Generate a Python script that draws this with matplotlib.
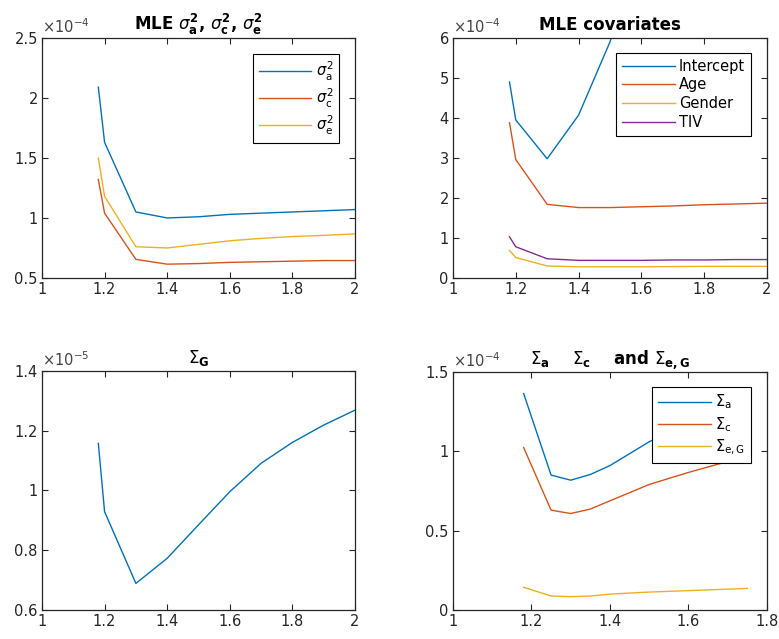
import numpy as np
import matplotlib
matplotlib.use("Agg")
import matplotlib.pyplot as plt
from matplotlib.ticker import FuncFormatter, MultipleLocator

# MATLAB default colours
c_blue = "#0072BD"
c_red = "#D95319"
c_yel = "#EDB120"
c_pur = "#7E2F8E"

# panel 1: MLE sigma^2 (x1e-4)
x1 = [1.18, 1.2, 1.3, 1.4, 1.5, 1.6, 1.7, 1.8, 1.9, 2.0]
sig_a = [2.09, 1.63, 1.05, 1.00, 1.01, 1.03, 1.04, 1.05, 1.06, 1.07]
sig_c = [1.32, 1.04, 0.655, 0.615, 0.62, 0.63, 0.635, 0.64, 0.645, 0.645]
sig_e = [1.50, 1.18, 0.76, 0.75, 0.78, 0.81, 0.83, 0.845, 0.855, 0.867]

# panel 2: MLE covariates (x1e-4)
x2 = [1.18, 1.2, 1.3, 1.4, 1.5, 1.6, 1.7, 1.8, 1.9, 2.0]
intercept = [4.90, 3.95, 2.98, 4.07, 5.90, 8.2, 10.5, 12.8, 15.0, 17.0]
age = [3.88, 2.96, 1.84, 1.76, 1.76, 1.78, 1.80, 1.83, 1.85, 1.87]
gender = [0.69, 0.51, 0.30, 0.28, 0.28, 0.28, 0.285, 0.29, 0.29, 0.29]
tiv = [1.03, 0.78, 0.48, 0.44, 0.44, 0.44, 0.45, 0.45, 0.46, 0.46]

# panel 3: Sigma_G (x1e-5)
x3 = [1.18, 1.2, 1.3, 1.4, 1.5, 1.6, 1.7, 1.8, 1.9, 2.0]
sigma_g = [1.158, 0.929, 0.689, 0.773, 0.885, 0.996, 1.091, 1.161, 1.219, 1.269]

# panel 4: Sigma_a, Sigma_c, Sigma_eG (x1e-4)
x4 = [1.18, 1.25, 1.3, 1.35, 1.4, 1.5, 1.6, 1.75]
S_a = [1.364, 0.85, 0.818, 0.854, 0.91, 1.06, 1.18, 1.33]
S_c = [1.024, 0.629, 0.608, 0.636, 0.688, 0.791, 0.867, 0.97]
S_eG = [0.143, 0.088, 0.084, 0.088, 0.10, 0.113, 0.122, 0.136]

plt.rcParams["font.family"] = "DejaVu Sans"
plt.rcParams["font.size"] = 10.5
txt_col = "#262626"

fig = plt.figure(figsize=(7.79, 6.39), dpi=100)

def setup(ax, xlim, xstep, ylim, ystep, scale, exp):
    ax.set_xlim(xlim)
    ax.set_ylim(ylim[0] * scale, ylim[1] * scale)
    ax.xaxis.set_major_locator(MultipleLocator(xstep))
    ax.yaxis.set_major_locator(MultipleLocator(ystep * scale))
    ax.xaxis.set_major_formatter(FuncFormatter(lambda v, p: f"{v:g}"))
    ax.yaxis.set_major_formatter(FuncFormatter(lambda v, p: f"{round(v / scale, 6):g}"))
    ax.tick_params(direction="in", top=True, right=True, length=4, width=0.8,
                   colors=txt_col, labelsize=10.5, pad=3)
    for s in ax.spines.values():
        s.set_color(txt_col)
        s.set_linewidth(0.9)
    ax.text(0.0, 1.01, r"$\times$10$^{" + exp + "}$", transform=ax.transAxes,
            ha="left", va="bottom", fontsize=10.5, color="#444444")

def leg(ax, top):
    lg = ax.legend(loc="upper right", bbox_to_anchor=(0.949, top), fancybox=False,
                   edgecolor="black", framealpha=1, fontsize=10.5, handlelength=3.6,
                   borderaxespad=0, labelspacing=0.25, handletextpad=0.3,
                   borderpad=0.4)
    lg.get_frame().set_linewidth(0.8)
    return lg

# top left
ax1 = fig.add_axes([0.0539, 0.565, 0.4018, 0.3756])
ax1.plot(x1, np.array(sig_a) * 1e-4, color=c_blue, lw=1, label=r"$\sigma^2_\mathrm{a}$")
ax1.plot(x1, np.array(sig_c) * 1e-4, color=c_red, lw=1, label=r"$\sigma^2_\mathrm{c}$")
ax1.plot(x1, np.array(sig_e) * 1e-4, color=c_yel, lw=1, label=r"$\sigma^2_\mathrm{e}$")
setup(ax1, (1, 2), 0.2, (0.5, 2.5), 0.5, 1e-4, "-4")
leg(ax1, 0.933)
ax1.set_title(r"MLE $\sigma^\mathbf{2}_\mathbf{a}$, $\sigma^\mathbf{2}_\mathbf{c}$, $\sigma^\mathbf{2}_\mathbf{e}$",
              fontweight="bold", fontsize=12, pad=6)

# top right
ax2 = fig.add_axes([0.5815, 0.565, 0.403, 0.3756])
ax2.plot(x2, np.array(intercept) * 1e-4, color=c_blue, lw=1, label="Intercept")
ax2.plot(x2, np.array(age) * 1e-4, color=c_red, lw=1, label="Age")
ax2.plot(x2, np.array(gender) * 1e-4, color=c_yel, lw=1, label="Gender")
ax2.plot(x2, np.array(tiv) * 1e-4, color=c_pur, lw=1, label="TIV")
setup(ax2, (1, 2), 0.2, (0, 6), 1, 1e-4, "-4")
leg(ax2, 0.9375)
ax2.set_title("MLE covariates", fontweight="bold", fontsize=12, pad=6)

# bottom left
ax3 = fig.add_axes([0.0539, 0.0454, 0.4018, 0.374])
ax3.plot(x3, np.array(sigma_g) * 1e-5, color=c_blue, lw=1)
setup(ax3, (1, 2), 0.2, (0.6, 1.4), 0.2, 1e-5, "-5")
ax3.set_title(r"$\Sigma_\mathbf{G}$", fontsize=12, pad=6)

# bottom right
ax4 = fig.add_axes([0.5815, 0.0454, 0.403, 0.3725])
ax4.plot(x4, np.array(S_a) * 1e-4, color=c_blue, lw=1, label=r"$\Sigma_\mathrm{a}$")
ax4.plot(x4, np.array(S_c) * 1e-4, color=c_red, lw=1, label=r"$\Sigma_\mathrm{c}$")
ax4.plot(x4, np.array(S_eG) * 1e-4, color=c_yel, lw=1, label=r"$\Sigma_\mathrm{e,G}$")
setup(ax4, (1, 1.8), 0.2, (0, 1.5), 0.5, 1e-4, "-4")
leg(ax4, 0.937)
ax4.set_title(r"$\Sigma_\mathbf{a}$    $\Sigma_\mathbf{c}$    and $\Sigma_\mathbf{e,G}$",
              fontweight="bold", fontsize=12, pad=6)

fig.savefig("out.png", dpi=100)
